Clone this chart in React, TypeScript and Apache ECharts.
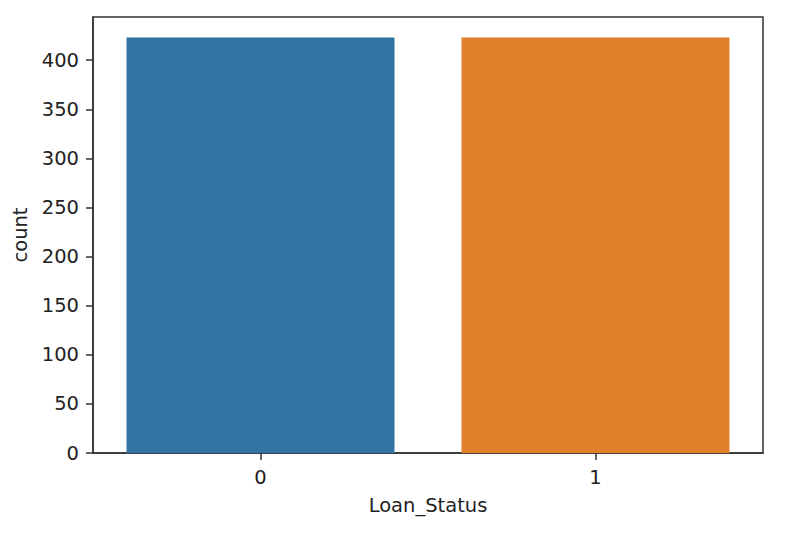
import React, { useEffect, useRef } from "react";
import * as echarts from "echarts";

const categories = ["0", "1"];
const counts = [423, 423];
const barColors = ["#3274a1", "#e1812c"];
const yTicks = [0, 50, 100, 150, 200, 250, 300, 350, 400];
const yMax = 444;
const xName = "Loan_Status";
const yName = "count";

export default function App() {
  const ref = useRef<HTMLDivElement>(null);
  useEffect(() => {
    if (!ref.current) return;
    const chart = echarts.init(ref.current, undefined, { renderer: "svg" });
    const font = "DejaVu Sans";
    const axisColor = "#333";
    const textColor = "#222";
    chart.setOption({
      animation: false,
      backgroundColor: "#fff",
      grid: {
        left: 93,
        right: 41,
        top: 17,
        bottom: 81,
        show: true,
        borderColor: axisColor,
        borderWidth: 1.5,
        containLabel: false,
      },
      xAxis: {
        type: "category",
        data: categories,
        boundaryGap: true,
        name: xName,
        nameLocation: "middle",
        nameGap: 42,
        nameTextStyle: { fontFamily: font, fontSize: 19.5, color: textColor },
        axisLine: { show: true, lineStyle: { color: axisColor, width: 1.5 } },
        axisTick: { show: true, alignWithLabel: true, length: 7, lineStyle: { color: axisColor, width: 1.5 } },
        axisLabel: { margin: 14, fontFamily: font, fontSize: 19.5, color: textColor },
        splitLine: { show: false },
      },
      yAxis: {
        type: "value",
        min: 0,
        max: yMax,
        interval: 50,
        name: yName,
        nameLocation: "middle",
        nameGap: 62,
        nameRotate: 90,
        nameTextStyle: { fontFamily: font, fontSize: 19.5, color: textColor },
        axisLine: { show: true, lineStyle: { color: axisColor, width: 1.5 } },
        axisTick: { show: true, length: 7, customValues: yTicks, lineStyle: { color: axisColor, width: 1.5 } },
        axisLabel: { margin: 14, fontFamily: font, fontSize: 19.5, color: textColor, customValues: yTicks },
        splitLine: { show: false },
      },
      series: [
        {
          type: "bar",
          barCategoryGap: "20%",
          data: counts.map((v, i) => ({ value: v, itemStyle: { color: barColors[i] } })),
        },
      ],
    });
    return () => chart.dispose();
  }, []);
  return (
    <div
      ref={ref}
      style={{ position: "fixed", left: 0, top: 0, width: 804, height: 534, background: "#fff" }}
    />
  );
}
